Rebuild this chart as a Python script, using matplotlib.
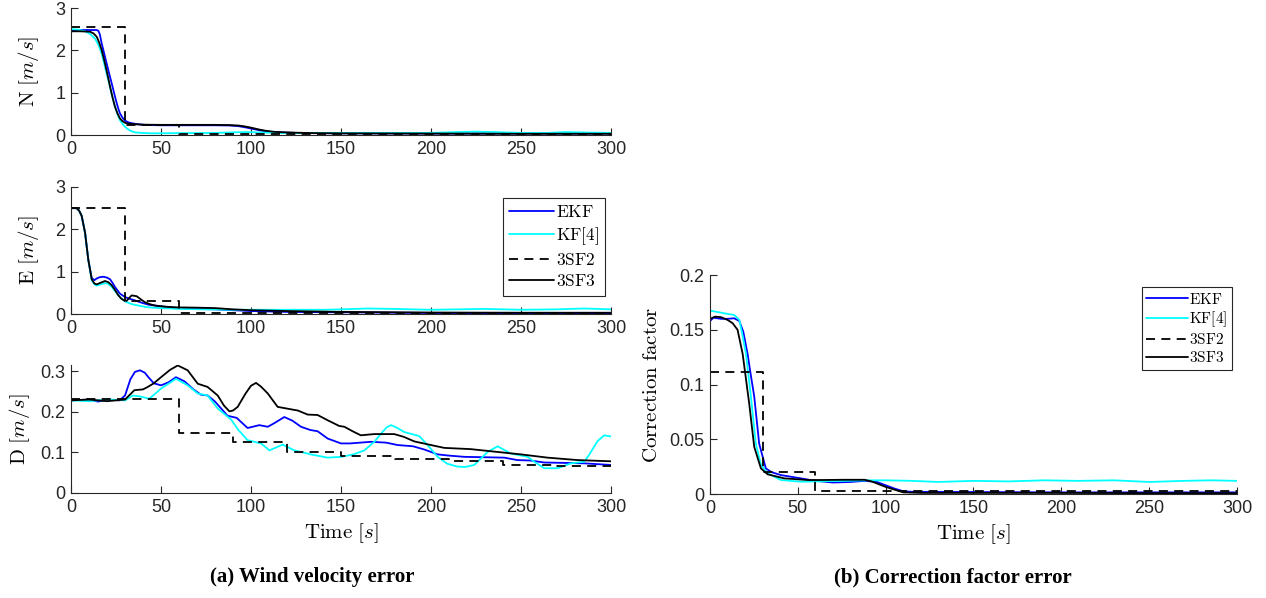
import matplotlib
matplotlib.use("Agg")
import matplotlib.pyplot as plt
from matplotlib.ticker import FuncFormatter

# ---- series data -------------------------------------------------------
labels = ["EKF", "KF[4]", "3SF2", "3SF3"]

# North wind velocity error [m/s]
t_n_ekf = [0, 5, 10, 14.3, 15.2, 16, 17, 18.4, 19.8, 21.2, 22.6, 24, 25.4, 26.3, 27.2, 28.6, 30, 31.8, 33.7, 37, 41, 50, 60, 70, 80, 88, 93, 97, 101, 105, 109, 113, 118, 125, 135, 150, 200, 250, 300]
n_ekf = [2.48, 2.48, 2.48, 2.48, 2.46, 2.38, 2.17, 1.93, 1.69, 1.45, 1.22, 0.98, 0.75, 0.62, 0.51, 0.41, 0.34, 0.30, 0.28, 0.255, 0.24, 0.23, 0.23, 0.23, 0.23, 0.225, 0.21, 0.18, 0.145, 0.11, 0.085, 0.07, 0.06, 0.05, 0.045, 0.04, 0.035, 0.035, 0.035]
t_n_kf = [0, 4, 7.8, 10.5, 13.3, 15.2, 17, 18.8, 20.7, 22.5, 24.4, 25.8, 27.2, 29, 30.9, 33, 35.6, 40, 44.8, 60, 80, 92, 98, 105, 120, 150, 180, 200, 215, 225, 235, 250, 265, 275, 285, 300]
n_kf = [2.50, 2.49, 2.45, 2.39, 2.28, 2.13, 1.93, 1.62, 1.30, 0.98, 0.67, 0.50, 0.35, 0.24, 0.16, 0.10, 0.063, 0.048, 0.04, 0.045, 0.05, 0.065, 0.07, 0.06, 0.045, 0.05, 0.05, 0.05, 0.07, 0.08, 0.07, 0.05, 0.05, 0.07, 0.06, 0.05]
t_n_3sf2 = [0, 30, 60, 300]
n_3sf2 = [2.55, 0.24, 0.03, 0.03]
t_n_3sf3 = [0, 5, 10.6, 12.5, 14.3, 15.7, 17, 18.2, 19.3, 20.5, 21.7, 23, 24.4, 25.8, 27.2, 28.6, 30, 31.8, 33.7, 40, 50, 60, 70, 80, 88, 93, 97, 101, 105, 109, 113, 118, 125, 135, 150, 200, 250, 300]
n_3sf3 = [2.45, 2.45, 2.44, 2.40, 2.32, 2.18, 2.01, 1.81, 1.61, 1.38, 1.14, 0.90, 0.67, 0.51, 0.39, 0.33, 0.29, 0.27, 0.26, 0.245, 0.24, 0.24, 0.24, 0.24, 0.235, 0.225, 0.20, 0.165, 0.125, 0.095, 0.075, 0.065, 0.055, 0.045, 0.04, 0.035, 0.03, 0.03]

# East wind velocity error [m/s]
t_e_ekf = [0, 3.1, 4.5, 5.9, 7.8, 9.6, 11.5, 13, 14.3, 16, 18, 20, 21.7, 23, 24.4, 25.8, 27.2, 30, 32.5, 35.6, 39, 43, 50, 60, 70, 80, 90, 100, 120, 150, 200, 250, 300]
e_ekf = [2.50, 2.50, 2.44, 2.32, 1.92, 1.28, 0.85, 0.80, 0.84, 0.87, 0.88, 0.86, 0.82, 0.74, 0.64, 0.56, 0.48, 0.40, 0.36, 0.32, 0.27, 0.22, 0.18, 0.14, 0.12, 0.11, 0.09, 0.07, 0.05, 0.04, 0.025, 0.02, 0.02]
t_e_kf = [0, 3.1, 4.5, 5.9, 7.8, 9.6, 11.5, 13, 14.3, 16.5, 18.9, 20.8, 22.6, 24.9, 27.2, 29, 30.9, 34, 37.4, 41, 44.8, 50, 61, 75, 90, 100, 120, 140, 150, 165, 180, 200, 215, 230, 250, 270, 285, 300]
e_kf = [2.50, 2.50, 2.44, 2.32, 1.92, 1.28, 0.80, 0.70, 0.67, 0.70, 0.73, 0.71, 0.64, 0.52, 0.40, 0.33, 0.28, 0.23, 0.20, 0.17, 0.15, 0.14, 0.12, 0.11, 0.10, 0.10, 0.10, 0.10, 0.11, 0.13, 0.12, 0.10, 0.11, 0.12, 0.10, 0.11, 0.13, 0.11]
t_e_3sf2 = [0, 30, 60, 300]
e_3sf2 = [2.50, 0.31, 0.02, 0.02]
t_e_3sf3 = [0, 3.1, 4.5, 5.9, 7.8, 9.6, 11.5, 13, 14.3, 16.5, 18.9, 20.8, 22.6, 24.4, 26.3, 28, 29.5, 30.9, 32.3, 33.7, 36.5, 39, 41, 44, 46.6, 52, 57.4, 70, 80, 90, 100, 120, 150, 200, 250, 300]
e_3sf3 = [2.50, 2.50, 2.44, 2.32, 1.92, 1.28, 0.82, 0.72, 0.70, 0.74, 0.78, 0.75, 0.68, 0.57, 0.44, 0.36, 0.32, 0.31, 0.38, 0.44, 0.42, 0.34, 0.28, 0.23, 0.20, 0.175, 0.158, 0.15, 0.14, 0.11, 0.09, 0.07, 0.05, 0.035, 0.03, 0.03]

# Down wind velocity error [m/s]
t_d_ekf = [0, 10, 15, 20, 27, 30, 33, 35.5, 38.3, 41, 43, 46, 50, 54, 58.3, 63, 68, 72.2, 75.9, 80, 87, 92, 98.1, 104.6, 109.3, 113, 118.5, 123, 127.8, 133, 137, 142.6, 150, 155, 166.7, 175, 181.5, 190, 196.3, 203.7, 210, 218.5, 230, 240.7, 248, 255, 263, 275, 285, 300]
d_ekf = [0.228, 0.23, 0.225, 0.23, 0.228, 0.24, 0.28, 0.298, 0.302, 0.296, 0.285, 0.27, 0.265, 0.272, 0.285, 0.275, 0.255, 0.242, 0.24, 0.225, 0.19, 0.185, 0.160, 0.167, 0.163, 0.172, 0.187, 0.178, 0.163, 0.155, 0.152, 0.134, 0.122, 0.122, 0.126, 0.124, 0.118, 0.115, 0.107, 0.095, 0.092, 0.089, 0.088, 0.087, 0.081, 0.08, 0.075, 0.074, 0.073, 0.069]
t_d_kf = [0, 10, 20, 30, 34.3, 38, 43.5, 50, 58.3, 64.8, 70.4, 75.9, 81.5, 88.9, 93, 98.1, 105.6, 110.2, 117.6, 124, 133.3, 142.6, 150, 157, 163, 168.5, 173, 175.5, 177.8, 180.5, 185.2, 193.5, 198.1, 203.7, 209, 214.8, 219, 224, 231.5, 237, 244.4, 253.7, 258, 263, 270.4, 277.8, 285.2, 288, 292.6, 296.3, 300]
d_kf = [0.228, 0.226, 0.23, 0.228, 0.240, 0.238, 0.232, 0.257, 0.281, 0.265, 0.245, 0.240, 0.208, 0.181, 0.155, 0.130, 0.122, 0.105, 0.119, 0.105, 0.095, 0.087, 0.089, 0.095, 0.105, 0.126, 0.150, 0.162, 0.167, 0.162, 0.150, 0.140, 0.118, 0.089, 0.072, 0.065, 0.064, 0.069, 0.101, 0.115, 0.097, 0.089, 0.075, 0.061, 0.061, 0.073, 0.077, 0.095, 0.128, 0.142, 0.139]
t_d_3sf2 = [0, 60, 90, 120, 150, 180, 210, 240, 270, 300]
d_3sf2 = [0.232, 0.148, 0.125, 0.101, 0.092, 0.083, 0.078, 0.070, 0.067, 0.067]
t_d_3sf3 = [0, 10, 20, 30, 35.2, 40, 42.6, 46, 50, 55, 59.3, 64.8, 70.4, 75.9, 81.5, 85, 88, 90, 92.6, 97, 100, 102.8, 105.5, 109.3, 114.8, 122.2, 126, 131.5, 137, 142.6, 149, 151.9, 156, 161, 168.5, 179.6, 185, 190.7, 200, 207.4, 222, 237, 250, 264.8, 281.5, 300]
d_3sf3 = [0.228, 0.23, 0.226, 0.23, 0.253, 0.255, 0.261, 0.27, 0.285, 0.303, 0.314, 0.302, 0.269, 0.261, 0.240, 0.215, 0.201, 0.203, 0.212, 0.245, 0.264, 0.271, 0.262, 0.245, 0.212, 0.206, 0.203, 0.193, 0.192, 0.179, 0.165, 0.163, 0.153, 0.142, 0.145, 0.145, 0.138, 0.127, 0.118, 0.111, 0.108, 0.101, 0.095, 0.087, 0.081, 0.078]

# Correction factor error
t_c_ekf = [0, 2, 6.3, 10, 13.8, 16.7, 19, 21.4, 23.3, 25.2, 28, 31.8, 35, 40.3, 51.7, 60, 70, 80, 88, 95, 100, 105, 110, 115, 150, 200, 250, 300]
c_ekf = [0.158, 0.161, 0.160, 0.160, 0.1605, 0.158, 0.148, 0.128, 0.108, 0.089, 0.046, 0.0234, 0.020, 0.0173, 0.0143, 0.012, 0.0105, 0.011, 0.012, 0.011, 0.008, 0.005, 0.0025, 0.002, 0.0018, 0.0015, 0.0015, 0.0015]
t_c_kf = [0, 5, 10, 13.8, 16.7, 18.5, 20.5, 23.3, 26.1, 29, 32.8, 40.3, 51.7, 60, 75, 90, 100, 115, 130, 150, 170, 190, 210, 230, 250, 270, 285, 300]
c_kf = [0.1675, 0.166, 0.1645, 0.1635, 0.159, 0.145, 0.128, 0.089, 0.046, 0.0265, 0.019, 0.0128, 0.0112, 0.0115, 0.012, 0.0125, 0.0125, 0.012, 0.011, 0.012, 0.0115, 0.0125, 0.012, 0.0125, 0.011, 0.012, 0.0125, 0.012]
t_c_3sf2 = [0, 30, 60, 300]
c_3sf2 = [0.111, 0.0198, 0.003, 0.003]
t_c_3sf3 = [0, 3, 6.3, 10, 12.9, 15.7, 18.6, 22.3, 25.2, 29, 32.8, 42.2, 55.5, 65, 76.3, 88, 92, 96, 100, 105, 110, 120, 150, 200, 250, 300]
c_3sf3 = [0.160, 0.162, 0.1615, 0.159, 0.156, 0.150, 0.128, 0.083, 0.043, 0.0234, 0.018, 0.0143, 0.0128, 0.0128, 0.013, 0.013, 0.0115, 0.009, 0.0065, 0.004, 0.0015, 0.001, 0.001, 0.001, 0.0008, 0.0008]

x_ticks = [0, 50, 100, 150, 200, 250, 300]

# ---- styling ----------------------------------------------------------
plt.rcParams["mathtext.fontset"] = "cm"
plt.rcParams["font.family"] = ["Liberation Sans", "DejaVu Sans"]
TICK_COLOR = "#262626"
LW = 1.3

fig = plt.figure(figsize=(12.66, 5.98), dpi=100)

ax_n = fig.add_axes([0.0561, 0.7742, 0.4265, 0.2124])
ax_e = fig.add_axes([0.0561, 0.4749, 0.4265, 0.2124])
ax_d = fig.add_axes([0.0561, 0.1756, 0.4265, 0.2140])
ax_c = fig.add_axes([0.5608, 0.1739, 0.4163, 0.3662])

fmt = FuncFormatter(lambda v, p: "%g" % v)


def style_axis(ax, ylim, yticks):
    ax.set_xlim(0, 300)
    ax.set_ylim(*ylim)
    ax.set_xticks(x_ticks)
    ax.set_yticks(yticks)
    ax.xaxis.set_major_formatter(fmt)
    ax.yaxis.set_major_formatter(fmt)
    for s in ("top", "right"):
        ax.spines[s].set_visible(False)
    for s in ("left", "bottom"):
        ax.spines[s].set_color(TICK_COLOR)
        ax.spines[s].set_linewidth(0.8)
    ax.tick_params(direction="in", length=5, width=0.8, colors=TICK_COLOR,
                   labelsize=13, pad=4)


def draw(ax, series):
    (te, ye), (tk, yk), (t2, y2), (t3, y3) = series
    kw = dict(lw=LW, solid_joinstyle="round", solid_capstyle="round")
    ax.plot(te, ye, color="#0000FF", label=r"$\mathrm{EKF}$", **kw)
    ax.plot(tk, yk, color="#00FFFF", label=r"$\mathrm{KF[4]}$", **kw)
    ax.plot(t2, y2, color="black", lw=LW, ls=(0, (5, 3.5)),
            drawstyle="steps-post", label=r"$\mathrm{3SF2}$")
    ax.plot(t3, y3, color="black", label=r"$\mathrm{3SF3}$", **kw)


draw(ax_n, [(t_n_ekf, n_ekf), (t_n_kf, n_kf), (t_n_3sf2, n_3sf2), (t_n_3sf3, n_3sf3)])
draw(ax_e, [(t_e_ekf, e_ekf), (t_e_kf, e_kf), (t_e_3sf2, e_3sf2), (t_e_3sf3, e_3sf3)])
draw(ax_d, [(t_d_ekf, d_ekf), (t_d_kf, d_kf), (t_d_3sf2, d_3sf2), (t_d_3sf3, d_3sf3)])
draw(ax_c, [(t_c_ekf, c_ekf), (t_c_kf, c_kf), (t_c_3sf2, c_3sf2), (t_c_3sf3, c_3sf3)])

style_axis(ax_n, (0, 3), [0, 1, 2, 3])
style_axis(ax_e, (0, 3), [0, 1, 2, 3])
style_axis(ax_d, (0, 0.315), [0, 0.1, 0.2, 0.3])
style_axis(ax_c, (0, 0.2), [0, 0.05, 0.1, 0.15, 0.2])

LBL = 15
ax_n.set_ylabel(r"$\mathrm{N}\ [m/s]$", fontsize=LBL, labelpad=10)
ax_e.set_ylabel(r"$\mathrm{E}\ [m/s]$", fontsize=LBL, labelpad=10)
ax_d.set_ylabel(r"$\mathrm{D}\ [m/s]$", fontsize=LBL, labelpad=6)
ax_d.set_xlabel(r"$\mathrm{Time}\ [s]$", fontsize=LBL, labelpad=4)
ax_c.set_ylabel(r"$\mathrm{Correction\ factor}$", fontsize=LBL, labelpad=6)
ax_c.set_xlabel(r"$\mathrm{Time}\ [s]$", fontsize=LBL, labelpad=4)

leg_kw = dict(loc="upper right", frameon=True, fancybox=False,
              borderaxespad=0, handletextpad=0.1, framealpha=1)
leg1 = ax_e.legend(bbox_to_anchor=(0.989, 0.913), fontsize=12.5,
                   handlelength=2.6, labelspacing=0.3, borderpad=0.35, **leg_kw)
leg2 = ax_c.legend(bbox_to_anchor=(0.9905, 0.945), fontsize=11,
                   handlelength=2.7, labelspacing=0.2, borderpad=0.3, **leg_kw)
for lg in (leg1, leg2):
    lg.get_frame().set_edgecolor(TICK_COLOR)
    lg.get_frame().set_linewidth(0.8)

cap_kw = dict(ha="center", va="center", fontsize=15, fontweight="bold",
              family=["Liberation Serif", "DejaVu Serif"])
fig.text(312 / 1266, 1 - 577 / 598, "(a) Wind velocity error", **cap_kw)
fig.text(953 / 1266, 1 - 577 / 598, "(b) Correction factor error", **cap_kw)

fig.savefig("out.png", dpi=100)
